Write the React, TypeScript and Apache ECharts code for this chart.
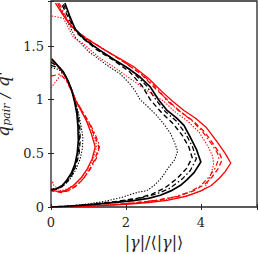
import React, { useEffect, useRef } from "react";
import * as echarts from "echarts";

// Tick labels
const xTicks = [0, 2, 4];
const yTicks = [0, 0.5, 1, 1.5];

// Large loop curves [x, y]
const bigBlackSolid = [[0.37,1.9],[0.5,1.78],[0.64,1.66],[0.9,1.56],[1.31,1.46],[1.7,1.37],[2.03,1.3],[2.35,1.22],[2.65,1.12],[2.87,1.0],[3.1,0.9],[3.35,0.83],[3.55,0.76],[3.72,0.65],[3.88,0.54],[4.0,0.42],[3.82,0.32],[3.62,0.25],[3.45,0.2],[3.2,0.15],[2.92,0.11],[2.6,0.08],[2.2,0.06],[1.8,0.045],[1.31,0.03],[0.8,0.015],[0.4,0.007],[0,0]];
const bigBlackDash = [[0.3,1.88],[0.5,1.74],[0.7,1.62],[1.2,1.47],[1.7,1.36],[2.1,1.26],[2.45,1.12],[2.65,1.0],[2.95,0.88],[3.25,0.78],[3.5,0.67],[3.68,0.56],[3.77,0.46],[3.62,0.36],[3.38,0.27],[3.05,0.18],[2.7,0.12],[2.3,0.08],[1.7,0.05],[1.0,0.022],[0.4,0.006],[0,0]];
const bigBlackDashDot = [[0.33,1.89],[0.55,1.73],[0.68,1.64],[1.25,1.47],[1.75,1.36],[2.15,1.27],[2.55,1.13],[2.8,1.0],[3.05,0.89],[3.35,0.8],[3.6,0.68],[3.78,0.56],[3.88,0.45],[3.72,0.34],[3.5,0.26],[3.15,0.17],[2.8,0.12],[2.4,0.085],[1.8,0.05],[1.1,0.025],[0.5,0.008],[0,0]];
const bigBlackDot = [[0.25,1.85],[0.45,1.72],[0.65,1.58],[1.0,1.45],[1.5,1.32],[1.85,1.24],[2.1,1.15],[2.25,1.08],[2.38,1.0],[2.6,0.93],[2.8,0.86],[3.0,0.78],[3.2,0.68],[3.3,0.6],[3.38,0.52],[3.3,0.44],[3.12,0.36],[2.95,0.27],[2.75,0.2],[2.55,0.15],[2.35,0.14],[2.15,0.12],[1.9,0.09],[1.4,0.05],[0.8,0.02],[0.3,0.005],[0,0]];
const bigRedSolid = [[0.12,1.9],[0.3,1.8],[0.55,1.68],[0.9,1.58],[1.4,1.47],[1.8,1.39],[2.2,1.31],[2.6,1.2],[2.95,1.08],[3.23,0.99],[3.55,0.9],[3.85,0.83],[4.15,0.74],[4.45,0.6],[4.65,0.5],[4.8,0.41],[4.65,0.33],[4.5,0.27],[4.28,0.2],[4.0,0.15],[3.6,0.1],[3.1,0.062],[2.6,0.042],[2.1,0.028],[1.5,0.015],[0.8,0.006],[0,0]];
const bigRedDash = [[0.18,1.9],[0.35,1.78],[0.6,1.66],[1.0,1.56],[1.5,1.45],[1.95,1.35],[2.4,1.24],[2.8,1.1],[3.13,0.99],[3.45,0.89],[3.8,0.8],[4.1,0.7],[4.35,0.58],[4.5,0.5],[4.57,0.44],[4.45,0.35],[4.3,0.28],[4.1,0.21],[3.8,0.15],[3.4,0.1],[2.9,0.065],[2.3,0.04],[1.6,0.02],[0.8,0.006],[0,0]];
const bigRedDashDot = [[0.22,1.9],[0.4,1.77],[0.62,1.65],[1.05,1.55],[1.55,1.44],[2.0,1.34],[2.45,1.23],[2.85,1.1],[3.07,1.0],[3.4,0.9],[3.75,0.81],[4.05,0.7],[4.3,0.58],[4.45,0.5],[4.48,0.45],[4.38,0.36],[4.22,0.28],[4.0,0.2],[3.7,0.14],[3.3,0.095],[2.8,0.062],[2.2,0.038],[1.5,0.018],[0.7,0.005],[0,0]];
const bigRedDot = [[0.02,1.78],[0.33,1.76],[0.6,1.58],[0.87,1.52],[1.26,1.4],[1.7,1.3],[2.1,1.2],[2.5,1.1],[2.85,1.02],[3.0,0.99],[3.3,0.89],[3.65,0.8],[3.95,0.7],[4.2,0.56],[4.32,0.47],[4.34,0.4],[4.3,0.34],[4.2,0.24],[4.08,0.16],[3.8,0.12],[3.4,0.085],[2.9,0.06],[2.3,0.038],[1.6,0.018],[0.8,0.005],[0,0]];

// Small loop curves [x, y]
const smallBlackSolid = [[0.02,1.38],[0.15,1.33],[0.33,1.26],[0.45,1.18],[0.55,1.09],[0.63,0.98],[0.69,0.87],[0.72,0.75],[0.73,0.62],[0.7,0.5],[0.64,0.4],[0.55,0.32],[0.42,0.25],[0.3,0.2],[0.15,0.17],[0,0.16]];
const smallBlackDash = [[0.0,1.35],[0.18,1.31],[0.35,1.24],[0.48,1.15],[0.58,1.06],[0.66,0.96],[0.73,0.85],[0.77,0.74],[0.78,0.62],[0.75,0.5],[0.68,0.4],[0.58,0.31],[0.45,0.24],[0.3,0.19],[0.14,0.165],[0,0.155]];
const smallBlackDashDot = [[0.0,1.32],[0.2,1.3],[0.36,1.24],[0.47,1.16],[0.57,1.07],[0.65,0.97],[0.71,0.86],[0.75,0.74],[0.76,0.62],[0.73,0.5],[0.66,0.4],[0.56,0.31],[0.43,0.245],[0.28,0.195],[0.12,0.165],[0,0.15]];
const smallBlackDot = [[0.0,1.3],[0.22,1.28],[0.38,1.22],[0.5,1.14],[0.6,1.05],[0.68,0.95],[0.75,0.85],[0.81,0.74],[0.85,0.65],[0.84,0.55],[0.78,0.45],[0.68,0.36],[0.55,0.28],[0.38,0.21],[0.2,0.175],[0,0.17]];
const smallRedSolid = [[0.02,1.37],[0.3,1.27],[0.52,1.12],[0.65,1.0],[0.8,0.9],[0.95,0.8],[1.08,0.68],[1.18,0.56],[1.1,0.45],[0.96,0.35],[0.8,0.27],[0.6,0.2],[0.4,0.155],[0.24,0.14],[0.1,0.15],[0,0.16]];
const smallRedDash = [[0.04,1.36],[0.32,1.26],[0.53,1.1],[0.68,0.98],[0.85,0.88],[1.02,0.78],[1.16,0.67],[1.28,0.56],[1.18,0.45],[1.03,0.35],[0.86,0.26],[0.65,0.19],[0.45,0.15],[0.28,0.135],[0.12,0.145],[0,0.15]];
const smallRedDashDot = [[0.0,1.22],[0.25,1.24],[0.42,1.17],[0.55,1.08],[0.7,0.97],[0.88,0.87],[1.05,0.77],[1.2,0.66],[1.3,0.57],[1.22,0.46],[1.06,0.36],[0.88,0.27],[0.68,0.2],[0.46,0.155],[0.3,0.14],[0.1,0.16],[0,0.17]];
const smallRedDot = [[0.0,1.11],[0.15,1.18],[0.33,1.26],[0.5,1.12],[0.66,0.99],[0.82,0.89],[0.98,0.79],[1.12,0.68],[1.22,0.57],[1.14,0.46],[1.0,0.36],[0.84,0.28],[0.64,0.21],[0.44,0.17],[0.26,0.15],[0.08,0.2],[0.04,0.24],[0,0.2]];

const BLACK = "#000000";
const RED = "#ff0000";
const DASH = [5, 3];
const DASHDOT = [5, 2.5, 1.5, 2.5];
const DOT = [1.3, 1.6];

const curves: [number[][], string, any, number][] = [
  [bigBlackDot, BLACK, DOT, 1.1],
  [bigBlackDash, BLACK, DASH, 1.4],
  [bigBlackDashDot, BLACK, DASHDOT, 1.3],
  [bigRedDot, RED, DOT, 1.1],
  [bigRedDashDot, RED, DASHDOT, 1.2],
  [bigRedDash, RED, DASH, 1.3],
  [bigRedSolid, RED, "solid", 1.3],
  [bigBlackSolid, BLACK, "solid", 1.7],
  [smallBlackDot, BLACK, DOT, 1.1],
  [smallBlackDash, BLACK, DASH, 1.3],
  [smallBlackDashDot, BLACK, DASHDOT, 1.3],
  [smallRedDot, RED, DOT, 1.1],
  [smallRedDashDot, RED, DASHDOT, 1.2],
  [smallRedDash, RED, DASH, 1.3],
  [smallRedSolid, RED, "solid", 1.3],
  [smallBlackSolid, BLACK, "solid", 1.7],
];

const FONT = "DejaVu Serif";
const AXIS_COLOR = "#262626";

export default function App() {
  const ref = useRef<HTMLDivElement>(null);
  useEffect(() => {
    if (!ref.current) return;
    const chart = echarts.init(ref.current, null, { renderer: "svg" });
    const tickLabel = {
      fontFamily: FONT,
      fontSize: 13,
      color: AXIS_COLOR,
    };
    chart.setOption({
      animation: false,
      textStyle: { fontFamily: FONT },
      grid: {
        left: 51,
        right: 1,
        top: 1,
        bottom: 47,
        containLabel: false,
        outerBoundsMode: "none",
        show: true,
        borderColor: AXIS_COLOR,
        borderWidth: 1.3,
        backgroundColor: "transparent",
      },
      xAxis: [
        {
          type: "value",
          min: 0,
          max: 5.5,
          interval: 2,
          position: "bottom",
          axisLine: { show: false },
          axisTick: { show: true, inside: true, length: 3, lineStyle: { color: AXIS_COLOR } },
          splitLine: { show: false },
          axisLabel: {
            ...tickLabel,
            margin: 9,
            formatter: (v: number) => (xTicks.includes(v) ? String(v) : ""),
          },
          name: "{n||}{i|γ}{n||/⟨|}{i|γ}{n||⟩}",
          nameLocation: "middle",
          nameGap: 27,
          nameTextStyle: {
            fontFamily: FONT,
            rich: {
              n: { fontFamily: FONT, fontSize: 16, color: AXIS_COLOR },
              i: { fontFamily: FONT, fontSize: 16, fontStyle: "italic", color: AXIS_COLOR },
            },
          },
        },
        {
          type: "value",
          min: 0,
          max: 5.5,
          interval: 2,
          position: "top",
          axisLine: { show: false },
          axisTick: { show: true, inside: true, length: 3, lineStyle: { color: AXIS_COLOR } },
          splitLine: { show: false },
          axisLabel: { show: false },
        },
      ],
      yAxis: [
        {
          type: "value",
          min: 0,
          max: 1.92,
          interval: 0.5,
          position: "left",
          axisLine: { show: false },
          axisTick: { show: true, inside: true, length: 3, lineStyle: { color: AXIS_COLOR } },
          splitLine: { show: false },
          axisLabel: {
            ...tickLabel,
            margin: 7,
            formatter: (v: number) => (yTicks.includes(v) ? String(v) : ""),
          },
          name: "{i|q}{s|pair}{i| / q'}",
          nameLocation: "middle",
          nameGap: 22,
          nameRotate: 90,
          nameTextStyle: {
            fontFamily: FONT,
            rich: {
              i: { fontFamily: FONT, fontSize: 17, fontStyle: "italic", color: AXIS_COLOR },
              s: { fontFamily: FONT, fontSize: 11, fontStyle: "italic", color: AXIS_COLOR, padding: [8, 0, 0, 0] },
            },
          },
        },
        {
          type: "value",
          min: 0,
          max: 1.92,
          interval: 0.5,
          position: "right",
          axisLine: { show: false },
          axisTick: { show: true, inside: true, length: 3, lineStyle: { color: AXIS_COLOR } },
          splitLine: { show: false },
          axisLabel: { show: false },
        },
      ],
      series: curves.map(([data, color, type, width]) => ({
        type: "line",
        data,
        xAxisIndex: 0,
        yAxisIndex: 0,
        showSymbol: false,
        symbol: "none",
        smooth: false,
        clip: true,
        lineStyle: { color, type, width },
      })),
    });
    return () => chart.dispose();
  }, []);
  return <div ref={ref} style={{ width: 258, height: 254, position: "absolute", left: 0, top: 0 }} />;
}
